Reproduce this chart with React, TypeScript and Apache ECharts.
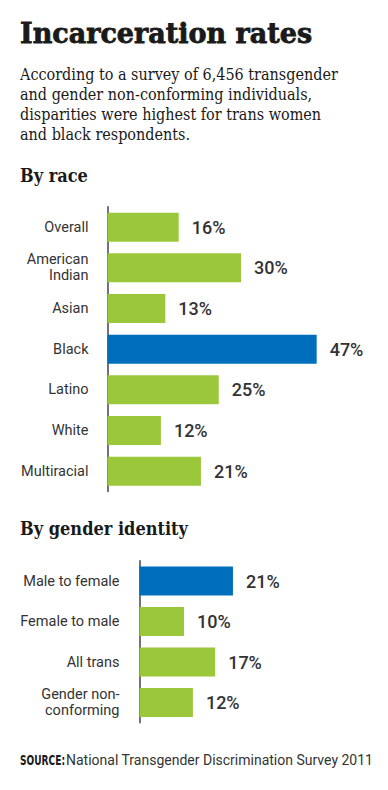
import React, { useEffect, useRef } from "react";
import * as echarts from "echarts";

const raceCategories = ["Overall", "American\nIndian", "Asian", "Black", "Latino", "White", "Multiracial"];
const raceValues = [16, 30, 13, 47, 25, 12, 21];
const raceHighlight = "Black";

const genderCategories = ["Male to female", "Female to male", "All trans", "Gender non-\nconforming"];
const genderValues = [21, 10, 17, 12];
const genderHighlight = "Male to female";

const GREEN = "#9bc83b";
const BLUE = "#006fbb";
const TEXT = "#333333";

function barData(cats: string[], vals: number[], hi: string) {
  return vals.map((v, i) => ({
    value: v,
    itemStyle: { color: cats[i] === hi ? BLUE : GREEN },
  }));
}

export default function App() {
  const ref = useRef<HTMLDivElement>(null);
  useEffect(() => {
    document.body.style.margin = "0";
    const chart = echarts.init(ref.current!, null, { renderer: "svg" });
    const catLabel = {
      color: TEXT,
      fontFamily: "Roboto",
      fontSize: 14.5,
      lineHeight: 16,
    };
    const valueLabel = {
      show: true,
      position: "right",
      distance: 13,
      color: TEXT,
      fontFamily: "Roboto",
      fontWeight: 500,
      fontSize: 18,
      formatter: "{c}%",
    };
    chart.setOption({
      animation: false,
      backgroundColor: "#ffffff",
      grid: [
        { left: 107.5, top: 206.8, width: 222.5, height: 284.7 },
        { left: 139.5, top: 560.8, width: 222.5, height: 162 },
      ],
      xAxis: [
        { type: "value", gridIndex: 0, min: 0, max: 50, show: false },
        { type: "value", gridIndex: 1, min: 0, max: 50, show: false },
      ],
      yAxis: [
        {
          type: "category",
          gridIndex: 0,
          inverse: true,
          data: raceCategories,
          axisLine: { show: true, lineStyle: { color: "#444", width: 1.5 } },
          axisTick: { show: false },
          axisLabel: { ...catLabel, margin: 19 },
        },
        {
          type: "category",
          gridIndex: 1,
          inverse: true,
          data: genderCategories,
          axisLine: { show: true, lineStyle: { color: "#444", width: 1.5 } },
          axisTick: { show: false },
          axisLabel: { ...catLabel, margin: 20 },
        },
      ],
      series: [
        {
          type: "bar",
          xAxisIndex: 0,
          yAxisIndex: 0,
          barWidth: 29,
          data: barData(raceCategories, raceValues, raceHighlight),
          label: valueLabel,
        },
        {
          type: "bar",
          xAxisIndex: 1,
          yAxisIndex: 1,
          barWidth: 29,
          data: barData(genderCategories, genderValues, genderHighlight),
          label: valueLabel,
        },
      ],
      graphic: [
        {
          type: "text",
          x: 20,
          y: 33,
          style: {
            text: "Incarceration rates",
            fill: "#1a1a1a",
            stroke: "#1a1a1a",
            lineWidth: 0.8,
            font: "bold 27px 'DejaVu Serif'",
            verticalAlign: "middle",
          },
        },
        {
          type: "text",
          x: 20,
          y: 64,
          style: {
            text:
              "According to a survey of 6,456 transgender\nand gender non-conforming individuals,\ndisparities were highest for trans women\nand black respondents.",
            fill: "#1a1a1a",
            font: "16px 'DejaVu Serif Condensed'",
            lineHeight: 20,
            verticalAlign: "top",
          },
        },
        {
          type: "text",
          x: 20,
          y: 175,
          style: {
            text: "By race",
            fill: "#1a1a1a",
            font: "bold 18px 'DejaVu Serif Condensed'",
            verticalAlign: "middle",
          },
        },
        {
          type: "text",
          x: 20,
          y: 528,
          style: {
            text: "By gender identity",
            fill: "#1a1a1a",
            font: "bold 18px 'DejaVu Serif Condensed'",
            verticalAlign: "middle",
          },
        },
        {
          type: "text",
          x: 20,
          y: 760,
          scaleX: 0.72,
          style: {
            text: "SOURCE:",
            fill: "#1a1a1a",
            font: "bold 14px 'DejaVu Sans Condensed'",
            verticalAlign: "middle",
          },
        },
        {
          type: "text",
          x: 66,
          y: 760,
          style: {
            text: "National Transgender Discrimination Survey 2011",
            fill: TEXT,
            font: "14px Roboto",
            verticalAlign: "middle",
          },
        },
      ],
    });
    return () => chart.dispose();
  }, []);
  return (
    <div
      ref={ref}
      style={{ position: "absolute", left: 0, top: 0, width: 388, height: 790 }}
    />
  );
}
